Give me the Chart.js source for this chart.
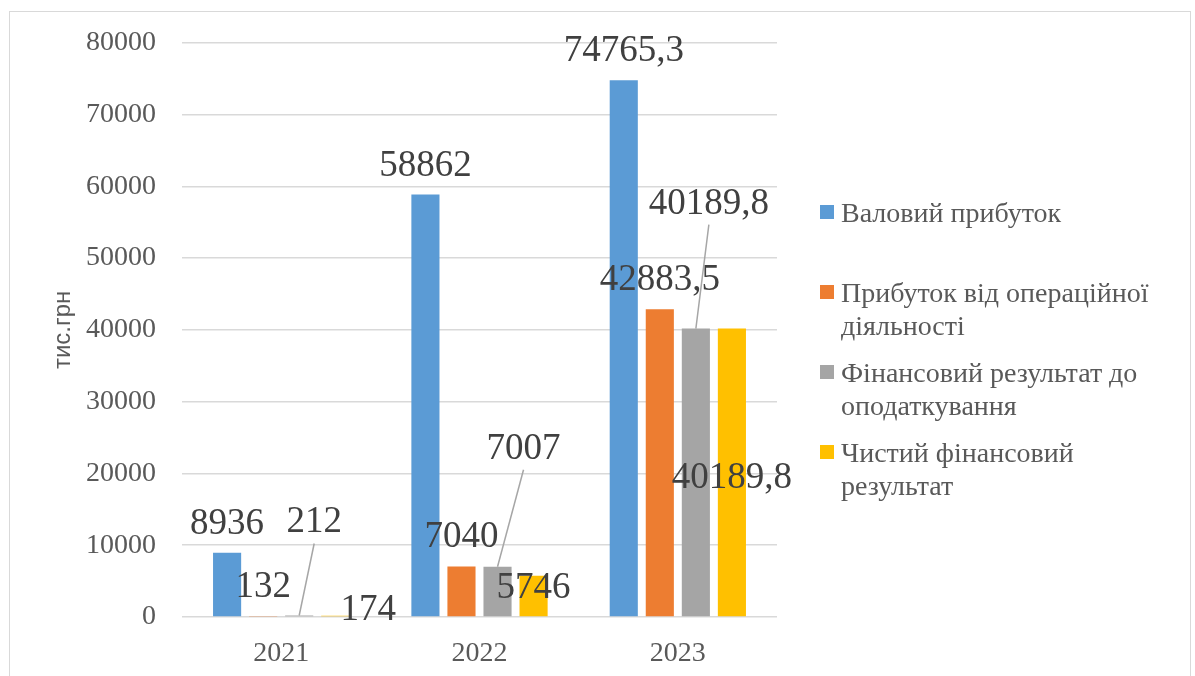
<!DOCTYPE html>
<html lang="uk">
<head>
<meta charset="UTF-8">
<title>Прибуток 2021-2023</title>
<script src="https://cdn.jsdelivr.net/npm/chart.js"></script>
<style>
  html, body { margin: 0; padding: 0; background: #fff; }
  .wrap { position: relative; width: 1195px; height: 676px; overflow: hidden; }
  .frame { position: absolute; left: 9px; top: 11px; width: 1180px; height: 700px; border: 1px solid #d9d9d9; }
  canvas { position: absolute; left: 0; top: 0; }
</style>
</head>
<body>
<div class="wrap">
  <div class="frame"></div>
  <canvas id="profitChart" width="1195" height="676"></canvas>
</div>

<script>
// data (тис.грн)
const years = ['2021', '2022', '2023'];
const grossProfit = [8936, 58862, 74765.3];
const operatingProfit = [132, 7040, 42883.5];
const preTaxResult = [212, 7007, 40189.8];
const netResult = [174, 5746, 40189.8];
const yTicks = [0, 10000, 20000, 30000, 40000, 50000, 60000, 70000, 80000];

const seriesNames = [
    ['Валовий прибуток'],
    ['Прибуток від операційної', 'діяльності'],
    ['Фінансовий результат до', 'оподаткування'],
    ['Чистий фінансовий', 'результат']
];
const colors = ['#5b9bd5', '#ed7d31', '#a5a5a5', '#ffc000'];

// hand-moved labels in the original: [dx, dy, leader line]
const labelNudges = [
    [[0, 0, false], [0, 0, false], [0, 0, false]],
    [[0, 0, false], [0, 0, false], [0, 0, false]],
    [[15, -64, true], [26, -89, true], [13, -96, true]],
    [[33, 23, false], [0, 41, false], [0, 178, false]]
];

const fmt = v => String(v).replace('.', ',');

const valueLabels = {
    id: 'valueLabels',
    afterDatasetsDraw(chart) {
        const ctx = chart.ctx;
        ctx.save();
        ctx.font = '37px "Liberation Serif"';
        ctx.textAlign = 'center';
        ctx.textBaseline = 'alphabetic';
        chart.data.datasets.forEach((ds, i) => {
            chart.getDatasetMeta(i).data.forEach((bar, j) => {
                const [dx, dy, leader] = labelNudges[i][j];
                const x = bar.x + dx;
                const y = bar.y - 19 + dy;
                if (leader) {
                    ctx.strokeStyle = '#a6a6a6';
                    ctx.lineWidth = 1.5;
                    ctx.beginPath();
                    ctx.moveTo(x, y + 11);
                    ctx.lineTo(bar.x, bar.y);
                    ctx.stroke();
                }
                ctx.fillStyle = '#404040';
                ctx.fillText(fmt(ds.data[j]), x, y);
            });
        });
        ctx.restore();
    }
};

// legend on the right, with wrapped names
const sideLegend = {
    id: 'sideLegend',
    afterDraw(chart) {
        const ctx = chart.ctx;
        const x0 = chart.chartArea.right + 43;
        ctx.save();
        ctx.font = '28px "Liberation Serif"';
        ctx.textAlign = 'left';
        ctx.textBaseline = 'alphabetic';
        chart.data.datasets.forEach((ds, i) => {
            const base = 222 + i * 80;
            ctx.fillStyle = ds.backgroundColor;
            ctx.fillRect(x0, base - 17, 14, 14);
            ctx.fillStyle = '#595959';
            seriesNames[i].forEach((line, k) => ctx.fillText(line, x0 + 21, base + k * 33));
        });
        ctx.restore();
    }
};

const series = [grossProfit, operatingProfit, preTaxResult, netResult];

new Chart(document.getElementById('profitChart'), {
    type: 'bar',
    data: {
        labels: years,
        datasets: series.map((vals, i) => ({
            label: seriesNames[i].join(' '),
            data: vals,
            backgroundColor: colors[i],
            categoryPercentage: 0.727,
            barPercentage: 0.78
        }))
    },
    options: {
        responsive: false,
        animation: false,
        layout: { padding: { top: 41, right: 418, bottom: 0, left: 0 } },
        plugins: {
            legend: { display: false },
            tooltip: { enabled: false }
        },
        scales: {
            x: {
                grid: { display: false },
                border: { display: false },
                afterFit(scale) { scale.height = 59; },
                ticks: {
                    padding: 12,
                    color: '#595959',
                    font: { family: 'Liberation Serif', size: 28 }
                }
            },
            y: {
                min: 0,
                max: 80000,
                afterFit(scale) { scale.width = 182; },
                afterBuildTicks(scale) { scale.ticks = yTicks.map(v => ({ value: v })); },
                grid: { color: '#d9d9d9', lineWidth: 1.5, drawTicks: false },
                border: { display: false },
                ticks: {
                    padding: 26,
                    color: '#595959',
                    font: { family: 'Liberation Serif', size: 28 },
                    callback: v => String(v)
                },
                title: {
                    display: true,
                    text: 'тис.грн',
                    color: '#595959',
                    font: { family: 'Liberation Sans', size: 24 },
                    padding: { top: 49 }
                }
            }
        }
    },
    plugins: [valueLabels, sideLegend]
});
</script>
</body>
</html>
